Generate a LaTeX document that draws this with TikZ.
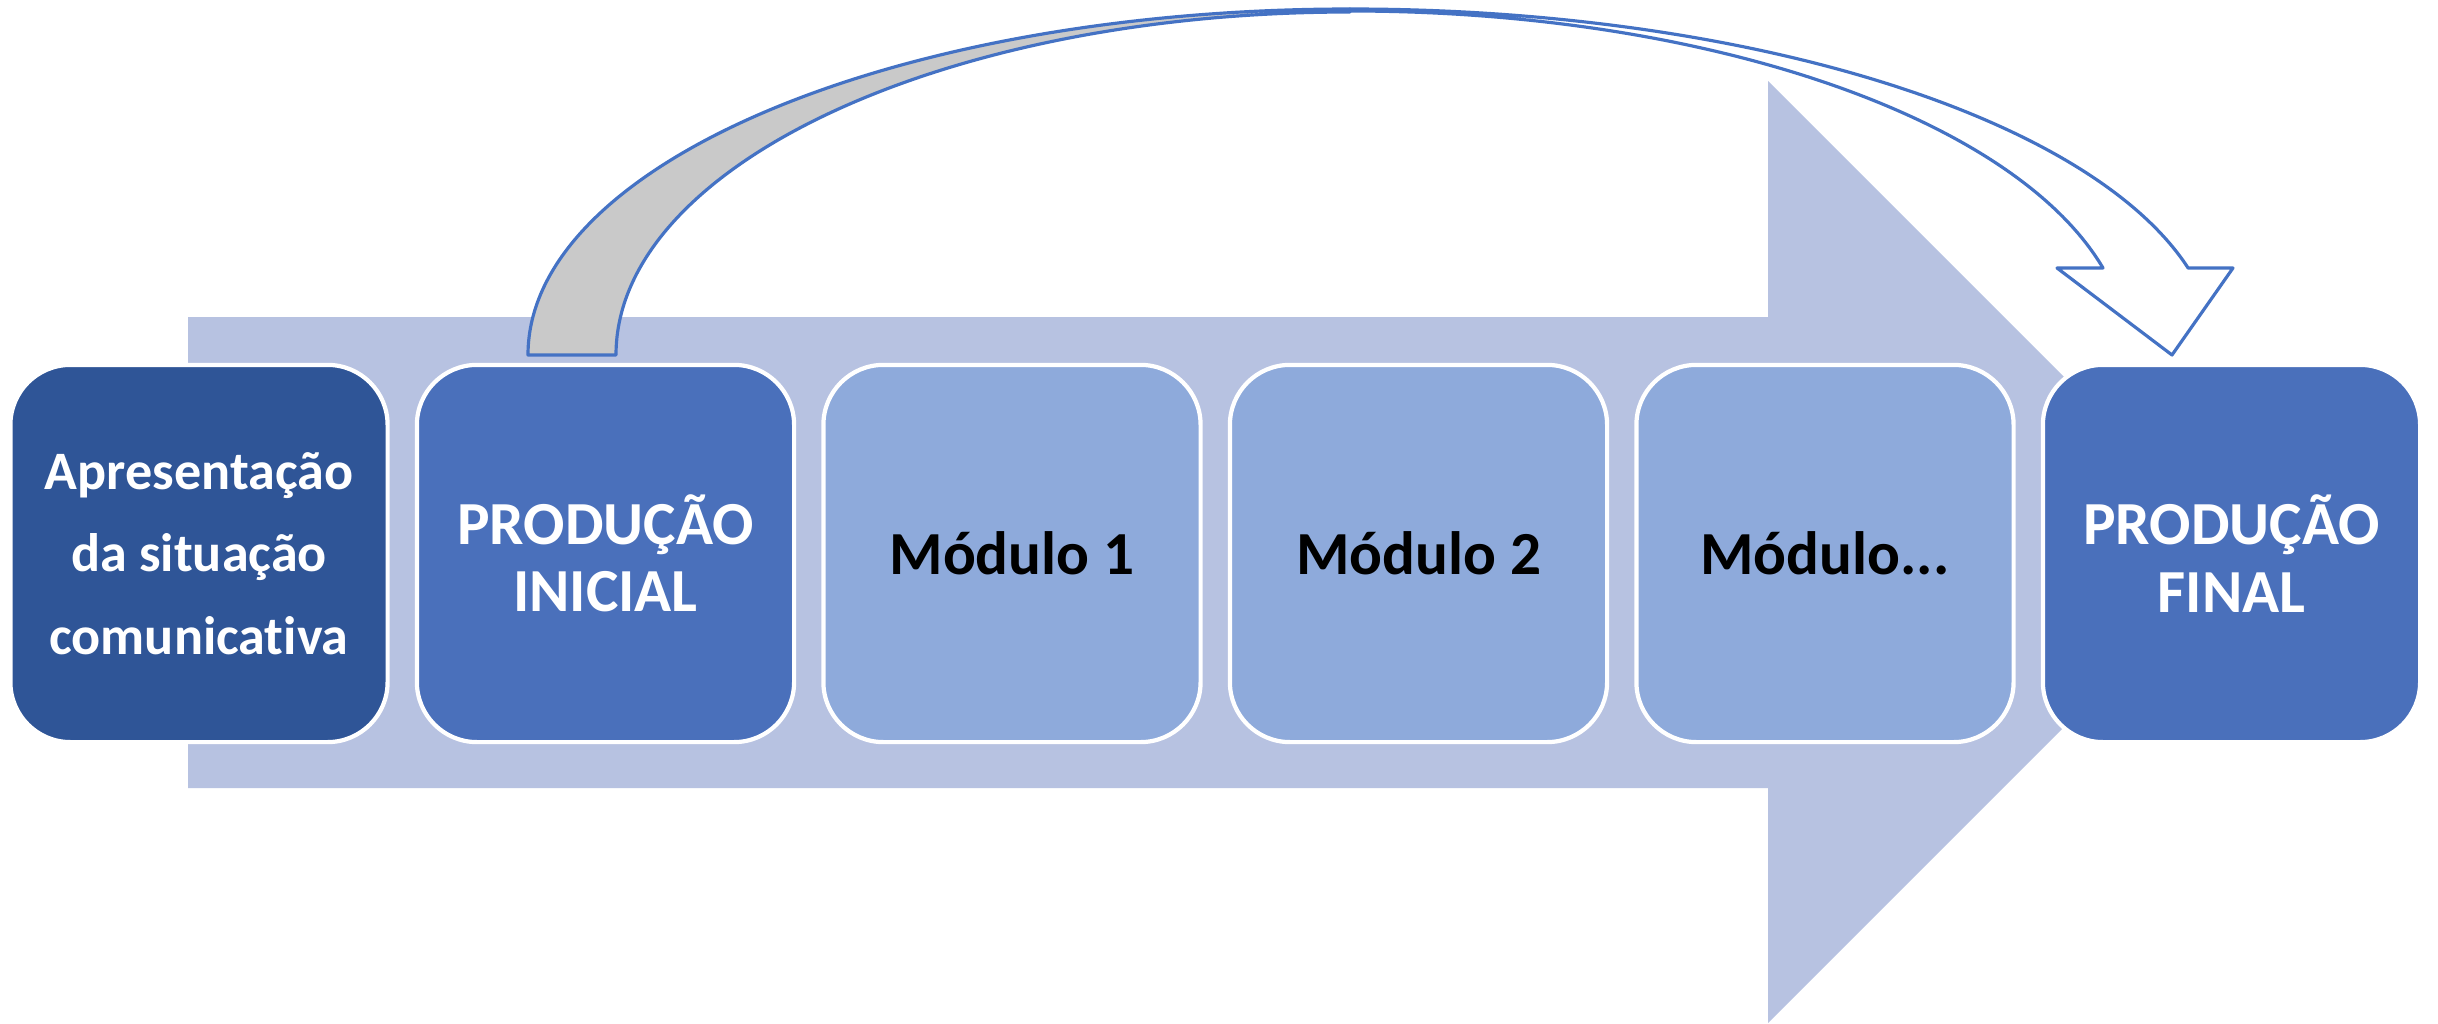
\documentclass[tikz,border=0pt]{standalone}
\usepackage{fontspec}
\setmainfont{Carlito}[Ligatures={NoCommon}]
\definecolor{boxdark}{RGB}{47,85,151}
\definecolor{boxmid}{RGB}{74,112,187}
\definecolor{boxlight}{RGB}{142,170,219}
\definecolor{arrowbg}{RGB}{183,194,225}
\definecolor{curveline}{RGB}{68,114,196}
\definecolor{curvegray}{RGB}{201,201,201}
\tikzset{
  stagebox/.style={rounded corners=0.6cm, minimum width=3.77cm, minimum height=3.77cm,
    inner sep=0pt, draw=white, line width=1.2pt, align=center,
    font=\bfseries\fontsize{17.4}{19.2}\selectfont},
  curveshape/.style={draw=curveline, line width=0.9pt, line join=round}
}
\begin{document}
\begin{tikzpicture}[x=0.01cm,y=0.01cm]
\path[use as bounding box, fill=white] (0,0) rectangle (2438,1023);
% big background arrow
\fill[arrowbg] (188,706) -- (1768,706) -- (1768,942) -- (2239,471) -- (1768,0) -- (1768,235) -- (188,235) -- cycle;
% curved arrow: back (gray) band
\coordinate (apex) at (1350,1014);
\filldraw[curveshape, fill=curvegray] (528,668) arc[start angle=180, end angle=90, x radius=822, y radius=346]
  -- (1350,1011) arc[start angle=90, end angle=180, x radius=734, y radius=343] -- cycle;
% curved arrow: front (white) band with head
\coordinate (tip) at (2172,668);
\filldraw[curveshape, fill=white] (apex) arc[start angle=90, end angle=14.56, x radius=866, y radius=346]
  -- (2233,755) -- (tip) -- (2057,755) -- (2103,755)
  arc[start angle=14.65, end angle=90, x radius=778, y radius=344] -- cycle;
% stage boxes
\node[stagebox, fill=boxdark, text=white, font=\bfseries\fontsize{15.4}{23.5}\selectfont] (b1) at (199,469.5) {Apresentação\\da situação\\comunicativa};
\node[stagebox, fill=boxmid, text=white] (b2) at (605.5,469.5) {PRODUÇÃO\\INICIAL};
\node[stagebox, fill=boxlight, text=black] (b3) at (1012,469.5) {Módulo 1};
\node[stagebox, fill=boxlight, text=black] (b4) at (1418.5,469.5) {Módulo 2};
\node[stagebox, fill=boxlight, text=black] (b5) at (1825,469.5) {Módulo...};
\node[stagebox, fill=boxmid, text=white] (b6) at (2231.5,469.5) {PRODUÇÃO\\FINAL};
\end{tikzpicture}
\end{document}
